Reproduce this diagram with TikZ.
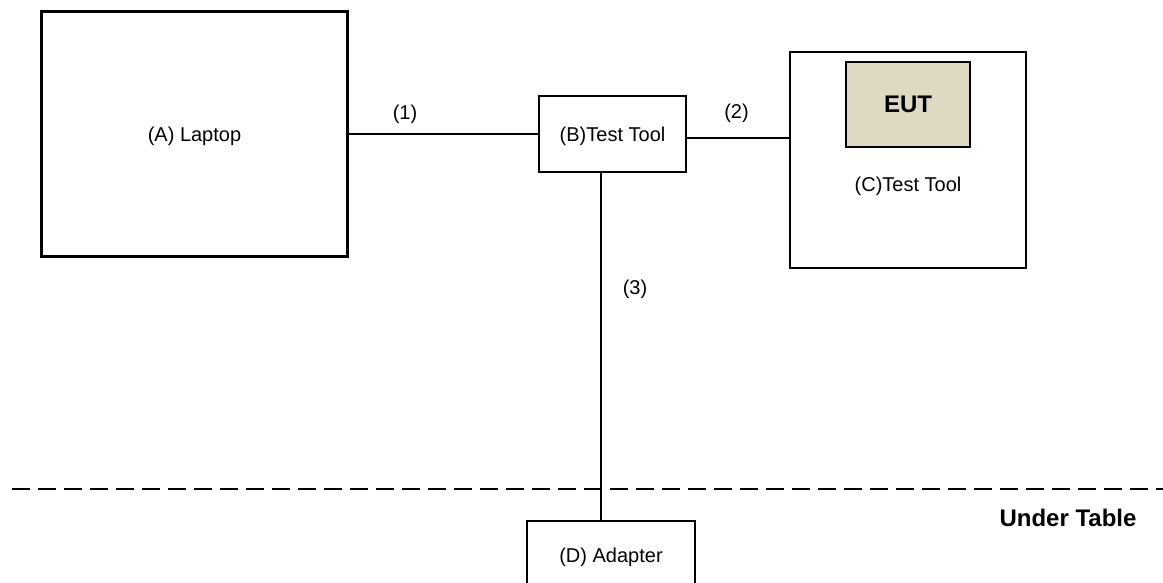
\documentclass[tikz,border=0pt]{standalone}
\usepackage{fontspec}
\setmainfont{Liberation Sans}
\definecolor{eutfill}{HTML}{DDD9C3}
\begin{document}
\begin{tikzpicture}[x=1bp,y=-1bp,
  every node/.style={font=\fontsize{20bp}{24bp}\selectfont,text depth=0bp},
  boxnode/.style={draw=black,line width=2.2bp,rectangle,inner sep=0pt},
  lbl/.style={inner sep=0pt},
  bigbold/.style={inner sep=0pt,font=\fontsize{24bp}{28bp}\selectfont\bfseries},
  wire/.style={line width=2.2bp,black}]
\useasboundingbox (0,0) rectangle (1163,583);
\clip (0,0) rectangle (1163,583);
% boxes
\node[boxnode,minimum width=306bp,minimum height=245bp] (A) at (194.5,134) {(A) Laptop};
\node[boxnode,minimum width=147bp,minimum height=76bp] (B) at (612.5,134) {(B)Test Tool};
\node[boxnode,minimum width=236bp,minimum height=215.5bp] (C) at (908,160) {};
\node[boxnode,fill=eutfill,minimum width=124bp,minimum height=85bp] (E) at (908,104.5) {};
\node[bigbold] (Etxt) at (908,104.5) {EUT};
\node[lbl] (Ctxt) at (908,184) {(C)Test Tool};
\node[boxnode,minimum width=168bp,minimum height=69bp] (D) at (611,555.5) {(D) Adapter};
% connectors
\draw[wire] (A.east) -- (B.west);
\draw[wire] ([yshift=-4bp]B.east) -- ([yshift=-4bp]B.east -| C.west);
\draw[wire] ([xshift=-11.5bp]B.south) -- ([xshift=-11.5bp]B.south |- D.north);
% labels
\node[lbl] (l1) at (405,112) {(1)};
\node[lbl] (l2) at (736.5,111) {(2)};
\node[lbl] (l3) at (635,287) {(3)};
% table line
\coordinate (tl) at (11.7,489);
\coordinate (tr) at (1170,489);
\draw[line width=2.2bp,dash pattern=on 18.3bp off 7.7bp] (tl) -- (tr);
\node[bigbold] (ut) at (1068,518) {Under Table};
\end{tikzpicture}
\end{document}
